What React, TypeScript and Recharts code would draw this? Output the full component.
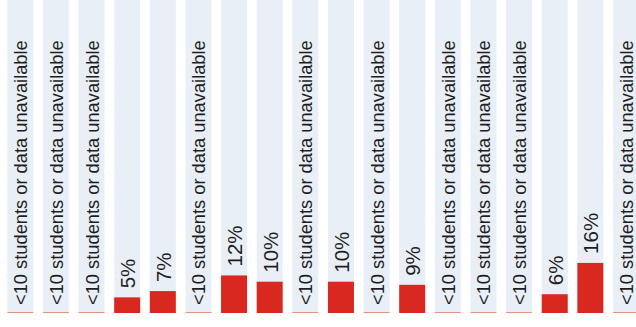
import React from "react";
import { BarChart, Bar, XAxis, YAxis, LabelList, Cell } from "recharts";

const categories = [
  "G1", "G2", "G3", "G4", "G5", "G6", "G7", "G8", "G9",
  "G10", "G11", "G12", "G13", "G14", "G15", "G16", "G17", "G18",
];
const values: (number | null)[] = [
  null, null, null, 5, 7, null, 12, 10, null, 10, null, 9, null, null, null, 6, 16, null,
];
const unavailableLabel = "<10 students or data unavailable";

const data = categories.map((c, i) => ({
  name: c,
  value: values[i] == null ? 0 : (values[i] as number),
  missing: values[i] == null,
}));

const BarShape = (props: any) => {
  const { x, y, width, height, payload } = props;
  if (payload && payload.missing) {
    return <rect x={x} y={y + height - 1} width={width} height={1} fill="#e8937c" />;
  }
  return <rect x={x} y={y} width={width} height={height} fill="#d8281f" />;
};

const RotLabel = (props: any) => {
  const { x, y, width, index } = props;
  const v = values[index];
  const missing = v == null;
  const text = missing ? unavailableLabel : `${v}%`;
  const cx = x + width / 2 + 0.5;
  const ty = y - (missing ? 8 : 9);
  return (
    <text
      x={cx}
      y={ty}
      transform={`rotate(-90, ${cx}, ${ty})`}
      textAnchor="start"
      dominantBaseline="central"
      fontFamily="'Liberation Sans', Arial, sans-serif"
      fontSize={missing ? 18.3 : 20.5}
      fill="#1e1e1e"
    >
      {text}
    </text>
  );
};

export default function App() {
  return (
    <div
      style={{
        position: "absolute",
        left: 0,
        top: 0,
        width: 636,
        height: 327,
        overflow: "hidden",
        background: "#ffffff",
      }}
    >
      <BarChart
        width={644}
        height={327}
        data={data}
        margin={{ top: 0, right: 0, bottom: 14, left: 2.7 }}
        barCategoryGap={4.6}
      >
        <XAxis dataKey="name" hide />
        <YAxis hide domain={[0, 100]} />
        <Bar
          dataKey="value"
          isAnimationActive={false}
          background={{ fill: "#e9eff6" }}
          shape={BarShape}
        >
          {data.map((d, i) => (
            <Cell key={i} fill={d.missing ? "#e8937c" : "#d8281f"} />
          ))}
          <LabelList dataKey="value" content={RotLabel} />
        </Bar>
      </BarChart>
    </div>
  );
}
